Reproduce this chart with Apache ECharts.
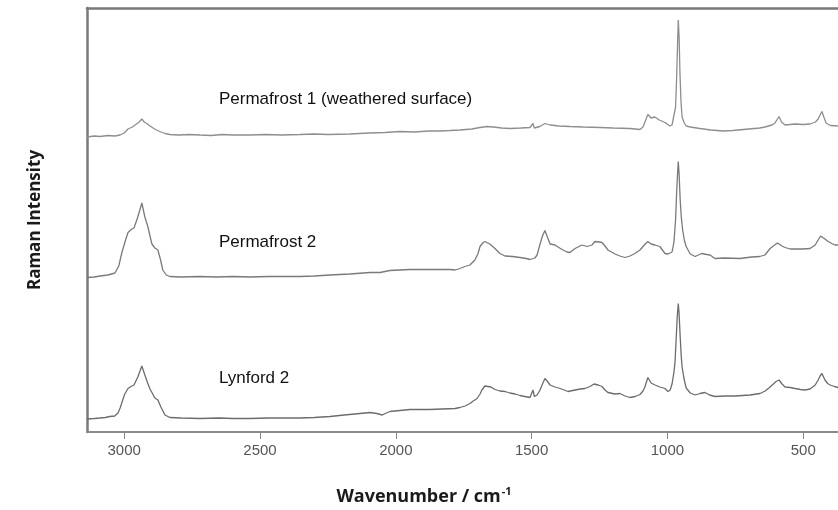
<!DOCTYPE html>
<html>
<head>
<meta charset="utf-8">
<title>Raman spectra</title>
<script src="https://cdn.jsdelivr.net/npm/echarts@6/dist/echarts.min.js"></script>
<style>
  html, body { margin: 0; padding: 0; background: #fff; }
  #chart { width: 838px; height: 510px; }
</style>
</head>
<body>
<div id="chart"></div>
<script>
// wavenumber (cm-1) and stacked intensity (arb. units)
const seriesNames = ['Permafrost 1 (weathered surface)', 'Permafrost 2', 'Lynford 2']
const tickValues = [3000, 2500, 2000, 1500, 1000, 500]

const permafrost1 = [
  [3137,295],[3110,296],[3089,295.5],[3060,296.5],[3034,296],[3015,297],[3000,299],[2986,303],[2970,305],[2960,307],
  [2945,310],[2935,313],[2926,310],[2917,308.5],[2905,306],[2898,304],[2885,302.5],[2869,300.5],[2850,298.5],[2832,297.5],
  [2800,297],[2760,297.5],[2721,297],[2680,296.5],[2640,297.5],[2600,297],[2537,297],[2480,297.5],[2420,297],[2353,297.5],
  [2300,298],[2250,297.5],[2169,298],[2100,299],[2040,299.5],[1985,300.5],[1930,300],[1880,301],[1838,301],[1800,301.5],
  [1764,302],[1720,303],[1690,304.5],[1665,305.5],[1640,305],[1610,304],[1580,303.5],[1540,304],[1506,304.5],[1499,305],
  [1495,308.5],[1490,304],[1470,305.5],[1451,308.5],[1432,307],[1400,306],[1359,305.5],[1310,305],[1248,304.5],[1200,304],
  [1138,303.5],[1101,302.5],[1090,305],[1080,312],[1072,317.5],[1060,314],[1057,313.5],[1046,315],[1030,312],[1009,309.5],
  [991,306],[983,307],[976,309],[970,325],[966,355],[962,395],[960,412],[957,395],[954,360],[950,330],
  [946,315],[938,309],[931,306],[916,305],[880,303.5],[840,302],[795,301],[760,301.5],[700,303],[660,304],
  [641,305],[615,307],[604,309],[595,313],[589,315.5],[580,310],[567,307],[530,308],[500,307.5],[475,308],
  [455,310],[445,313],[436,318],[431,320.5],[424,315],[416,309],[400,306.5],[372,306]
]

const permafrost2 = [
  [3137,154.5],[3110,155],[3089,156],[3060,157],[3053,157],[3034,159],[3020,166],[3008,180],[2995,192],[2986,199.5],
  [2972,203],[2964,204],[2950,215],[2935,229],[2924,215],[2913,205.5],[2905,196],[2898,188],[2887,184],[2876,182],
  [2866,172],[2858,162],[2845,157],[2832,155.5],[2790,155],[2721,155.5],[2660,155],[2600,155.5],[2537,155],[2470,155.5],
  [2400,155.5],[2353,155.5],[2300,156],[2242,157],[2170,158],[2095,159.5],[2058,159.5],[2022,161.5],[1985,162],[1948,162.5],
  [1890,162.5],[1838,162.5],[1800,162.5],[1782,162],[1764,163.5],[1746,165.5],[1727,167],[1709,172],[1698,178],[1690,185.5],
  [1680,189],[1672,190.5],[1654,188],[1635,183.5],[1617,178.5],[1598,176],[1570,175.5],[1543,174.5],[1520,173.5],[1506,172.5],
  [1499,172],[1488,174],[1480,177],[1470,187],[1460,196],[1451,201.5],[1442,195],[1432,188],[1414,187],[1400,184.5],
  [1388,182.5],[1370,180],[1359,179.5],[1340,183.5],[1315,187],[1296,185.5],[1278,187],[1267,190.5],[1250,190],[1241,189.5],
  [1230,186],[1219,182],[1193,178],[1175,176],[1156,174.5],[1138,176],[1120,178.5],[1101,182],[1085,187],[1072,190.5],
  [1060,188],[1046,187],[1028,185.5],[1009,178.5],[998,178],[991,178],[983,180],[976,190],[970,212],[966,240],
  [962,262],[960,270.5],[957,258],[953,232],[949,215],[944,202],[937,191],[931,185.5],[916,178],[898,175.5],
  [874,178.5],[855,177.5],[843,177],[825,173.5],[790,174],[733,173.5],[690,175],[660,175.5],[641,177],[622,183.5],
  [605,187],[595,189],[589,189.5],[578,186],[567,184.5],[548,183],[530,183],[500,183],[475,183.5],[456,187],
  [445,192],[436,196],[431,198],[420,193],[408,190.5],[395,188.5],[383,187],[372,187]
]

const lynford2 = [
  [3137,13],[3110,13.5],[3089,14],[3070,14.5],[3053,15.5],[3035,16],[3023,19],[3015,24],[3008,30],[2998,38],
  [2986,43.5],[2975,45.5],[2964,47],[2950,55],[2935,66],[2924,57],[2913,48.5],[2905,43],[2898,39.5],[2887,34],
  [2876,32],[2865,25],[2850,17],[2832,14.5],[2790,14],[2721,13.5],[2650,14],[2600,13.5],[2537,13.5],[2470,14],
  [2400,14],[2353,14],[2300,14.5],[2242,15.5],[2190,17],[2132,18.5],[2095,19.5],[2070,18.5],[2050,17],[2035,19],
  [2022,20.5],[1985,21.5],[1948,22.5],[1910,22.5],[1875,22.5],[1830,23],[1782,23.5],[1764,24.5],[1745,26],[1727,28.5],
  [1715,31],[1701,33.5],[1690,38],[1683,42],[1672,46],[1665,47],[1650,45],[1635,42.5],[1617,41],[1598,40.5],
  [1580,39],[1561,38],[1543,36.5],[1525,35.5],[1506,34.5],[1499,36],[1495,42],[1490,35.5],[1480,37],[1469,42],
  [1460,48],[1451,53.5],[1440,50],[1432,47],[1414,45],[1395,43.5],[1380,42],[1366,40.5],[1340,42],[1320,43],
  [1304,43.5],[1285,45.5],[1270,48],[1255,47],[1241,45.5],[1230,42],[1219,39.5],[1193,38],[1175,38.5],[1156,36],
  [1138,34.5],[1119,35.5],[1101,37.5],[1090,41],[1083,45],[1072,54.5],[1060,49],[1046,47],[1028,45],[1009,43.5],
  [998,40.5],[990,42],[983,48],[976,60],[972,70],[968,92],[964,115],[960,128.5],[957,118],[953,95],
  [949,75],[946,65],[940,55],[937,51],[931,44],[916,39],[898,37],[880,38.5],[862,39.5],[845,37],
  [825,35.5],[790,36],[750,36],[696,37],[659,38.5],[640,41],[622,45],[615,47],[600,50.5],[589,52],
  [578,48],[567,45],[548,44.5],[530,43.5],[510,42.5],[493,42],[475,43],[456,47],[445,52],[438,56],
  [431,58.5],[420,52],[410,48.5],[401,47],[385,45.5],[372,44.5]
]

const spectra = [permafrost1, permafrost2, lynford2]
const lineColors = ['#8e8e8e', '#7a7a7a', '#6c6c6c']
const labelPos = [[219, 99], [219, 242], [219, 378]]

const chart = echarts.init(document.getElementById('chart'))

const option = {
  animation: false,
  grid: { left: 87, right: 0, top: 8, bottom: 78 },
  xAxis: [{
    type: 'value',
    inverse: true,
    min: 372,
    max: 3137,
    axisLine: { show: true, lineStyle: { color: '#8a8a8a', width: 2 } },
    axisTick: { show: true, inside: false, length: 7, customValues: tickValues, lineStyle: { color: '#8a8a8a', width: 1 } },
    axisLabel: {
      customValues: tickValues,
      formatter: v => String(v),
      color: '#555',
      fontSize: 15,
      fontFamily: 'Liberation Sans',
      margin: 11
    },
    splitLine: { show: false }
  }, {
    // top frame line
    type: 'value',
    position: 'top',
    inverse: true,
    min: 372,
    max: 3137,
    axisLine: { show: true, lineStyle: { color: '#7a7a7a', width: 2.5 } },
    axisTick: { show: false },
    axisLabel: { show: false },
    splitLine: { show: false }
  }],
  yAxis: {
    type: 'value',
    min: 0,
    max: 424,
    axisLine: { show: true, lineStyle: { color: '#7a7a7a', width: 2.5 } },
    axisTick: { show: false },
    axisLabel: { show: false },
    splitLine: { show: false }
  },
  series: spectra.map((d, i) => ({
    name: seriesNames[i],
    type: 'line',
    data: d,
    showSymbol: false,
    smooth: false,
    lineStyle: { color: lineColors[i], width: 1.3 }
  })),
  graphic: seriesNames.map((name, i) => ({
    type: 'text',
    x: labelPos[i][0],
    y: labelPos[i][1],
    style: {
      text: name,
      font: '17px "Liberation Sans"',
      fill: '#111',
      align: 'left',
      verticalAlign: 'middle'
    }
  })).concat([{
    type: 'text',
    x: 424,
    y: 497,
    style: {
      text: '{t|Wavenumber / cm}{s|-1}',
      align: 'center',
      verticalAlign: 'middle',
      rich: {
        t: { fontFamily: 'Open Sans', fontWeight: 'bold', fontSize: 18, fill: '#1a1a1a' },
        s: { fontFamily: 'Open Sans', fontWeight: 'bold', fontSize: 11, fill: '#1a1a1a', verticalAlign: 'top', padding: [0, 0, 10, 1] }
      }
    }
  }, {
    type: 'text',
    x: 35,
    y: 220,
    rotation: Math.PI / 2,
    style: {
      text: 'Raman Intensity',
      font: 'bold 17px "Open Sans"',
      fill: '#1a1a1a',
      align: 'center',
      verticalAlign: 'middle'
    }
  }])
}

chart.setOption(option)
</script>
</body>
</html>
